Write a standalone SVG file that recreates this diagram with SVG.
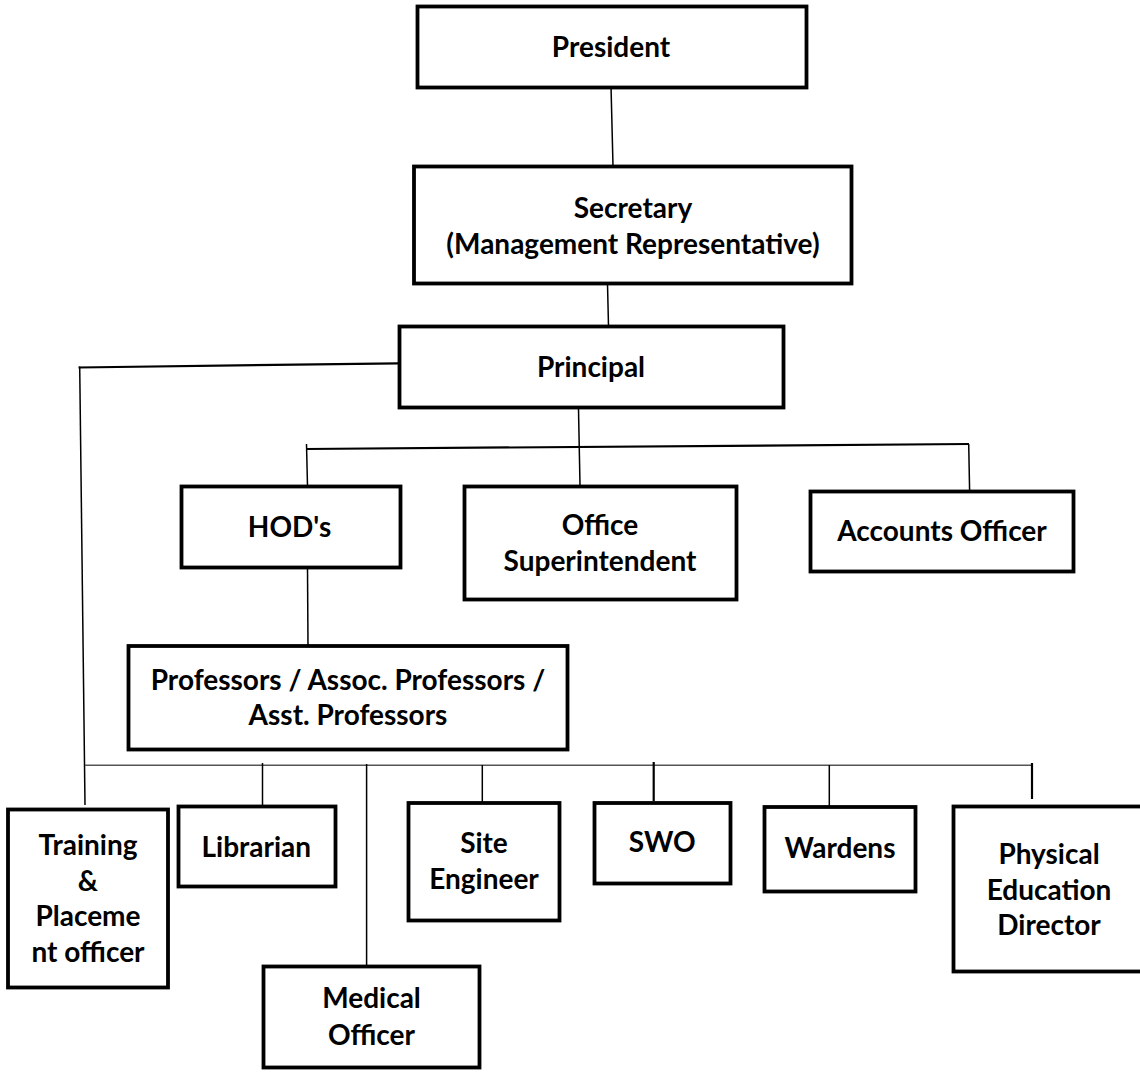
<svg xmlns="http://www.w3.org/2000/svg" width="1140" height="1072" viewBox="0 0 1140 1072">
<style>
.box{fill:#fff;stroke:#000;stroke-width:3.8}
.t{font-family:Lato,"Liberation Sans",sans-serif;font-weight:bold;font-size:28px;fill:#000;text-anchor:middle}
.c{stroke:#000;fill:none;stroke-width:1.5}
.c2{stroke:#000;fill:none;stroke-width:2.2}
.g{stroke:#555;fill:none;stroke-width:1.6}
</style>
<rect width="1140" height="1072" fill="#fff"/>
<g id="connectors">
<line class="c" x1="611" y1="86" x2="613" y2="166"/>
<line class="c" x1="607.5" y1="284" x2="608.5" y2="326"/>
<line class="c2" x1="398" y1="363.3" x2="78.5" y2="367.5"/>
<line class="c" x1="79.7" y1="366.5" x2="85" y2="805"/>
<line class="c" x1="578.4" y1="404" x2="580" y2="485"/>
<line class="c2" x1="306" y1="449" x2="969" y2="444"/>
<line class="c" x1="306.5" y1="444" x2="307.5" y2="486"/>
<line class="c" x1="968.7" y1="444" x2="969.6" y2="490"/>
<line class="c" x1="307.5" y1="568" x2="308" y2="646"/>
<line class="g" x1="85" y1="765.3" x2="1032" y2="765.3"/>
<line class="c" x1="262.5" y1="763" x2="262.5" y2="805"/>
<line class="c" x1="366.6" y1="764" x2="366.6" y2="965"/>
<line class="c" x1="482.3" y1="765" x2="482.3" y2="802"/>
<line class="c2" x1="653.7" y1="762" x2="653.7" y2="801"/>
<line class="c" x1="829.3" y1="765" x2="829.3" y2="808"/>
<line class="c2" x1="1032" y1="763" x2="1032" y2="799"/>
</g>
<g id="president"><rect class="box" x="417.5" y="6.5" width="389" height="81"/><text class="t" x="611" y="56.5">President</text></g>
<g id="secretary"><rect class="box" x="414" y="166.5" width="437.5" height="117"/><text class="t" x="633" y="217.5">Secretary</text><text class="t" x="633" y="253.5">(Management Representative)</text></g>
<g id="principal"><rect class="box" x="399.5" y="326.5" width="384" height="81"/><text class="t" x="591" y="376.5">Principal</text></g>
<g id="hods"><rect class="box" x="181.5" y="486.5" width="219" height="81"/><text class="t" x="289.5" y="536.5">HOD's</text></g>
<g id="office-superintendent"><rect class="box" x="464.5" y="486.5" width="272" height="113"/><text class="t" x="600" y="534.5">Office</text><text class="t" x="600" y="570.5">Superintendent</text></g>
<g id="accounts-officer"><rect class="box" x="810.5" y="491.5" width="263" height="80"/><text class="t" x="942" y="541.3">Accounts Officer</text></g>
<g id="professors"><rect class="box" x="128.5" y="646" width="439" height="103.5"/><text class="t" x="348" y="690">Professors / Assoc. Professors /</text><text class="t" x="348" y="725">Asst. Professors</text></g>
<g id="training-placement"><rect class="box" x="8" y="809.5" width="160" height="178"/><text class="t" x="88" y="855">Training</text><text class="t" x="88" y="890.5">&amp;</text><text class="t" x="88" y="926">Placeme</text><text class="t" x="88" y="961.5">nt officer</text></g>
<g id="librarian"><rect class="box" x="178.5" y="806.5" width="157" height="80"/><text class="t" x="256.3" y="856.7">Librarian</text></g>
<g id="medical-officer"><rect class="box" x="263.5" y="966.5" width="216" height="101"/><text class="t" x="371.5" y="1008.3">Medical</text><text class="t" x="371.5" y="1045">Officer</text></g>
<g id="site-engineer"><rect class="box" x="408.5" y="803" width="151" height="117.5"/><text class="t" x="484" y="853">Site</text><text class="t" x="484" y="888.5">Engineer</text></g>
<g id="swo"><rect class="box" x="594.5" y="803" width="136" height="80.5"/><text class="t" x="662.3" y="851.7">SWO</text></g>
<g id="wardens"><rect class="box" x="764.5" y="807" width="151" height="84.5"/><text class="t" x="840" y="858.3">Wardens</text></g>
<g id="physical-education-director"><rect class="box" x="953.5" y="806.5" width="195" height="165"/><text class="t" x="1049" y="864">Physical</text><text class="t" x="1049" y="899.5">Education</text><text class="t" x="1049" y="935">Director</text></g>
</svg>
